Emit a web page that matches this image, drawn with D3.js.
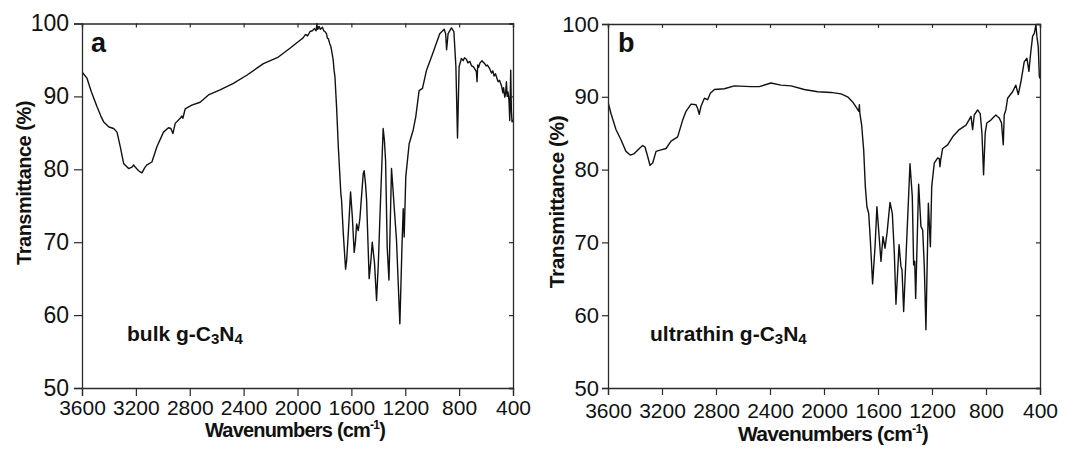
<!DOCTYPE html>
<html>
<head>
<meta charset="utf-8">
<script src="https://cdn.jsdelivr.net/npm/d3@7"></script>
<style>
  html, body { margin: 0; padding: 0; background: #fff; }
  svg { display: block; font-family: "Liberation Sans", Arial, sans-serif; }
</style>
</head>
<body>
<svg id="chart" width="1078" height="450"></svg>
<script>
// FTIR spectra of bulk and ultrathin g-C3N4 (wavenumber in cm^-1, transmittance in %)
const bulkWn = [3600, 3585, 3563, 3530, 3489, 3460, 3439, 3400, 3365, 3340, 3316, 3291, 3254, 3229, 3217, 3200, 3180, 3155, 3135, 3118, 3081, 3044, 2995, 2958, 2940, 2925, 2908, 2871, 2860, 2851, 2834, 2785, 2723, 2661, 2575, 2476, 2377, 2253, 2142, 2056, 1981, 1960, 1940, 1925, 1907, 1890, 1875, 1862, 1856, 1850, 1840, 1830, 1815, 1805, 1796, 1785, 1778, 1771, 1760, 1752, 1747, 1735, 1728, 1722, 1710, 1697, 1685, 1678, 1673, 1660, 1643, 1635, 1623, 1606, 1593, 1579, 1570, 1561, 1549, 1537, 1512, 1505, 1495, 1487, 1468, 1455, 1445, 1428, 1413, 1400, 1388, 1364, 1355, 1346, 1334, 1321, 1302, 1292, 1282, 1265, 1240, 1223, 1215, 1208, 1196, 1171, 1160, 1141, 1122, 1097, 1072, 1042, 992, 944, 911, 900, 893, 882, 857, 839, 824, 812, 800, 783, 770, 760, 746, 735, 720, 708, 696, 685, 672, 667, 662, 655, 645, 630, 622, 610, 600, 590, 573, 560, 550, 540, 530, 523, 510, 500, 486, 475, 470, 461, 455, 449, 443, 437, 430, 424, 420, 417, 412, 407, 402, 400];
const bulkT = [93.4, 93.0, 92.5, 90.6, 88.6, 87.3, 86.5, 85.8, 85.6, 85.1, 83.1, 80.8, 80.1, 80.3, 80.6, 80.2, 79.8, 79.5, 80.2, 80.6, 81.0, 83.1, 85.1, 85.7, 85.6, 84.9, 86.3, 87.0, 87.3, 87.0, 88.3, 88.8, 89.2, 90.2, 90.9, 91.8, 92.9, 94.5, 95.4, 96.6, 97.7, 98.0, 98.5, 98.3, 98.9, 99.0, 99.3, 99.0, 100.0, 99.2, 99.6, 99.2, 99.5, 99.0, 98.9, 98.6, 98.0, 97.9, 97.2, 96.8, 96.3, 95.0, 93.5, 92.7, 88.6, 83.1, 79.0, 76.6, 75.8, 71.2, 66.3, 67.5, 71.2, 76.9, 73.5, 68.6, 70.0, 72.5, 71.6, 73.2, 79.4, 79.8, 78.0, 75.8, 65.0, 67.5, 70.0, 67.1, 62.0, 67.0, 73.5, 85.6, 84.0, 81.2, 69.3, 64.8, 80.1, 77.5, 74.8, 70.3, 58.8, 70.3, 74.6, 70.7, 79.0, 83.5, 84.2, 85.4, 87.2, 90.8, 91.1, 93.6, 96.1, 98.6, 99.2, 98.6, 96.4, 98.6, 99.4, 98.9, 94.1, 84.3, 94.1, 95.2, 94.9, 95.3, 95.1, 94.6, 94.8, 94.2, 94.1, 93.8, 93.4, 92.0, 94.3, 94.0, 94.6, 94.9, 94.7, 94.5, 94.2, 94.3, 93.8, 93.2, 93.5, 92.8, 93.1, 92.7, 92.0, 92.2, 91.5, 90.5, 91.2, 89.9, 90.4, 92.0, 90.0, 90.6, 89.5, 86.7, 90.5, 93.6, 88.0, 86.5, 86.7, 86.8];

const ultraWn = [3600, 3578, 3541, 3504, 3467, 3435, 3405, 3368, 3343, 3326, 3306, 3289, 3269, 3244, 3207, 3170, 3133, 3084, 3047, 3022, 2985, 2948, 2936, 2924, 2911, 2886, 2862, 2842, 2812, 2738, 2664, 2541, 2479, 2393, 2319, 2244, 2146, 2047, 1948, 1874, 1825, 1788, 1756, 1742, 1738, 1734, 1721, 1706, 1694, 1682, 1669, 1657, 1640, 1622, 1608, 1590, 1578, 1563, 1548, 1533, 1511, 1494, 1479, 1467, 1444, 1430, 1422, 1410, 1385, 1363, 1346, 1336, 1328, 1321, 1299, 1282, 1269, 1257, 1245, 1227, 1212, 1202, 1183, 1158, 1146, 1141, 1136, 1121, 1084, 1047, 998, 948, 911, 899, 887, 862, 843, 830, 818, 806, 794, 764, 727, 702, 685, 672, 665, 653, 640, 603, 579, 561, 541, 517, 497, 482, 472, 455, 442, 430, 423, 413, 405, 400];
const ultraT = [89.3, 87.7, 85.5, 84.1, 82.5, 82.0, 82.2, 82.9, 83.3, 83.1, 81.8, 80.6, 80.9, 82.5, 82.7, 82.9, 83.9, 84.5, 86.8, 88.0, 89.0, 88.9, 88.4, 87.6, 88.7, 89.8, 89.6, 90.5, 91.0, 91.1, 91.5, 91.4, 91.4, 91.9, 91.6, 91.5, 91.0, 90.7, 90.6, 90.4, 90.0, 89.3, 88.4, 88.0, 88.9, 87.7, 86.1, 82.7, 77.7, 74.9, 74.0, 70.4, 64.3, 69.4, 74.9, 70.4, 67.4, 70.8, 69.2, 71.3, 75.5, 74.0, 68.5, 61.5, 69.7, 66.7, 66.2, 60.5, 71.3, 80.8, 76.3, 66.9, 67.4, 62.3, 78.0, 72.2, 71.7, 66.7, 58.0, 75.4, 69.4, 77.7, 80.9, 81.6, 81.5, 80.4, 81.3, 82.9, 83.4, 84.5, 85.5, 86.1, 87.3, 85.5, 87.5, 88.2, 87.7, 85.0, 79.3, 85.0, 86.4, 86.8, 87.5, 87.1, 86.4, 83.4, 87.5, 88.2, 89.8, 90.7, 91.6, 90.3, 92.1, 94.8, 95.3, 93.5, 95.5, 98.3, 98.7, 99.9, 98.3, 96.9, 92.8, 92.5];

const xTicks = [3600, 3200, 2800, 2400, 2000, 1600, 1200, 800, 400];
const yTicks = [50, 60, 70, 80, 90, 100];
const panelLetters = ["a", "b"];
const sampleNames = ["bulk g-C", "ultrathin g-C"];

const svg = d3.select("#chart");

const panels = [
  { wn: bulkWn, t: bulkT, letter: panelLetters[0], name: sampleNames[0],
    x0: 82, x1: 513, y0: 23.5, y1: 388,
    xTickFont: 21, yTickFont: 23, yTickSize: 8, yPad: 5, xTickSize: 8, xPad: 4,
    yTitleX: 31, yTitleY: 183, yTitleFont: 20,
    xTitleX: 295, xTitleY: 437, xTitleFont: 20,
    letterX: 91, letterY: 52, nameX: 127, nameY: 341 },
  { wn: ultraWn, t: ultraT, letter: panelLetters[1], name: sampleNames[1],
    x0: 608, x1: 1040, y0: 24, y1: 388,
    xTickFont: 21, yTickFont: 22, yTickSize: 6, yPad: 3, xTickSize: 7, xPad: 8,
    yTitleX: 564, yTitleY: 202, yTitleFont: 21,
    xTitleX: 833, xTitleY: 441, xTitleFont: 21,
    letterX: 618, letterY: 52, nameX: 650, nameY: 341 }
];

const axisColor = "#2a2a2a";

panels.forEach((p, i) => {
  const x = d3.scaleLinear().domain([3600, 400]).range([p.x0, p.x1]);
  const y = d3.scaleLinear().domain([50, 100]).range([p.y1, p.y0]);
  const g = svg.append("g");

  const clipId = "clip" + i;
  svg.append("clipPath").attr("id", clipId)
    .append("rect").attr("x", p.x0).attr("y", p.y0 - 1)
    .attr("width", p.x1 - p.x0).attr("height", p.y1 - p.y0 + 1);

  // spectrum
  const pts = p.wn.map((w, k) => [w, p.t[k]]);
  const line = d3.line().x(d => x(d[0])).y(d => y(d[1]));
  g.append("path").datum(pts)
    .attr("clip-path", `url(#${clipId})`)
    .attr("fill", "none").attr("stroke", "#111")
    .attr("stroke-width", 1.4).attr("stroke-linejoin", "round")
    .attr("d", line);

  // axes: outward ticks left/bottom, inward mirror ticks top/right
  const bottom = g.append("g").attr("transform", `translate(0,${p.y1})`)
    .call(d3.axisBottom(x).tickValues(xTicks).tickSize(p.xTickSize).tickPadding(p.xPad).tickFormat(d3.format("d")));
  const left = g.append("g").attr("transform", `translate(${p.x0},0)`)
    .call(d3.axisLeft(y).tickValues(yTicks).tickSize(p.yTickSize).tickPadding(p.yPad).tickFormat(d3.format("d")));
  const top = g.append("g").attr("transform", `translate(0,${p.y0})`)
    .call(d3.axisTop(x).tickValues(xTicks).tickSize(-4).tickFormat(""));
  const right = g.append("g").attr("transform", `translate(${p.x1},0)`)
    .call(d3.axisRight(y).tickValues(yTicks).tickSize(-4).tickFormat(""));

  [bottom, left, top, right].forEach(a => {
    a.select(".domain").attr("stroke", axisColor).attr("stroke-width", 1.3);
    a.selectAll(".tick line").attr("stroke", axisColor).attr("stroke-width", 1.2);
    a.selectAll(".tick text").attr("fill", "#111")
      .style("font-family", "'Liberation Sans', Arial, sans-serif");
  });
  bottom.selectAll(".tick text").style("font-size", p.xTickFont + "px");
  left.selectAll(".tick text").style("font-size", p.yTickFont + "px");

  // axis titles
  const xt = g.append("text").attr("x", p.xTitleX).attr("y", p.xTitleY)
    .attr("text-anchor", "middle").attr("font-weight", "bold")
    .attr("font-size", p.xTitleFont).attr("letter-spacing", "-0.8").attr("fill", "#111");
  xt.append("tspan").text("Wavenumbers (cm");
  xt.append("tspan").attr("font-size", p.xTitleFont * 0.6).attr("dy", -8).text("-1");
  xt.append("tspan").attr("dy", 8).text(")");

  g.append("text")
    .attr("transform", `translate(${p.yTitleX},${p.yTitleY}) rotate(-90)`)
    .attr("text-anchor", "middle").attr("font-weight", "bold")
    .attr("font-size", p.yTitleFont).attr("letter-spacing", "-0.5").attr("fill", "#111")
    .text("Transmittance (%)");

  // panel letter
  g.append("text").attr("x", p.letterX).attr("y", p.letterY)
    .attr("font-weight", "bold").attr("font-size", 27).attr("fill", "#111")
    .text(p.letter);

  // sample label with subscripts
  const nt = g.append("text").attr("x", p.nameX).attr("y", p.nameY)
    .attr("font-weight", "bold").attr("font-size", 21).attr("fill", "#111");
  nt.append("tspan").text(p.name);
  nt.append("tspan").attr("font-size", 15).attr("dy", 3).text("3");
  nt.append("tspan").attr("dy", -3).text("N");
  nt.append("tspan").attr("font-size", 15).attr("dy", 3).text("4");
});
</script>
</body>
</html>
